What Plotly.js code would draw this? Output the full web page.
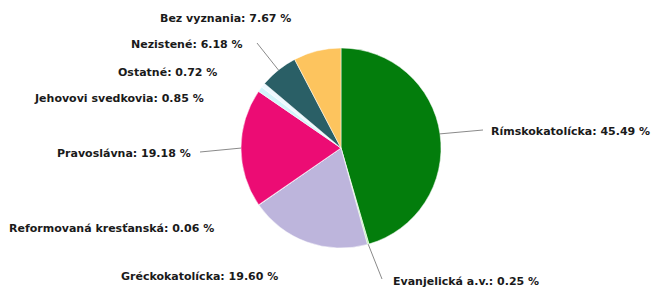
<!DOCTYPE html>
<html>
<head>
<meta charset="utf-8">
<script src="https://cdn.plot.ly/plotly-3.0.1.min.js"></script>
<style>html,body{margin:0;padding:0;background:#fff;}#chart{width:651px;height:288px;}</style>
</head>
<body>
<div id="chart"></div>
<script>
// Data
var labels = ["Rímskokatolícka", "Evanjelická a.v.", "Gréckokatolícka", "Reformovaná kresťanská", "Pravoslávna", "Jehovovi svedkovia", "Ostatné", "Nezistené", "Bez vyznania"];
var values = [45.49, 0.25, 19.60, 0.06, 19.18, 0.85, 0.72, 6.18, 7.67];
var colors = ["#037d0c", "#b4f2a6", "#bdb5dc", "#f4e6f8", "#ec0c74", "#d2f4fa", "#eef9ff", "#2a5f66", "#fdc45e"];

// Layout geometry (pixels)
var W = 651, H = 288;
var cx = 341, cy = 148, R = 100;
// label anchor positions [x, y, side] in pixels; line end optional
var labelPos = [
  {x: 489, y: 131, side: "left", line: [483, 130]},
  {x: 391, y: 281, side: "left", line: [382, 279]},
  {x: 280, y: 276, side: "right"},
  {x: 216, y: 228, side: "right"},
  {x: 193, y: 153, side: "right", line: [200, 152]},
  {x: 206, y: 98, side: "right"},
  {x: 219, y: 72, side: "right"},
  {x: 245, y: 44, side: "right", line: [257, 43]},
  {x: 293, y: 18, side: "right"}
];

var total = values.reduce(function(a, b){ return a + b; }, 0);
var annotations = [];
var shapes = [];
var cum = 0;
for (var i = 0; i < values.length; i++) {
  var mid = (cum + values[i] / 2) / total * 2 * Math.PI;
  cum += values[i];
  var p = labelPos[i];
  annotations.push({
    xref: "paper", yref: "paper",
    x: p.x / W, y: 1 - p.y / H,
    xanchor: p.side === "left" ? "left" : "right",
    yanchor: "middle",
    showarrow: false,
    text: "<b>" + labels[i] + ": " + values[i].toFixed(2) + " %</b>",
    font: {family: "DejaVu Sans", size: 11, color: "#1a1a1a"}
  });
  if (p.line) {
    var sx = cx + R * Math.sin(mid), sy = cy - R * Math.cos(mid);
    shapes.push({
      type: "line", xref: "paper", yref: "paper",
      x0: sx / W, y0: 1 - sy / H, x1: p.line[0] / W, y1: 1 - p.line[1] / H,
      line: {color: "#8a8a8a", width: 1}
    });
  }
}

var trace = {
  type: "pie",
  labels: labels,
  values: values,
  sort: false,
  direction: "clockwise",
  rotation: 0,
  textinfo: "none",
  hoverinfo: "label+percent",
  marker: {colors: colors, line: {color: "#ffffff", width: 0.5}},
  domain: {x: [(cx - R) / W, (cx + R) / W], y: [1 - (cy + R) / H, 1 - (cy - R) / H]},
  showlegend: false
};

var layout = {
  width: W, height: H,
  margin: {l: 0, r: 0, t: 0, b: 0},
  paper_bgcolor: "#ffffff",
  showlegend: false,
  annotations: annotations,
  shapes: shapes
};

Plotly.newPlot("chart", [trace], layout, {displayModeBar: false, staticPlot: true});
</script>
</body>
</html>
